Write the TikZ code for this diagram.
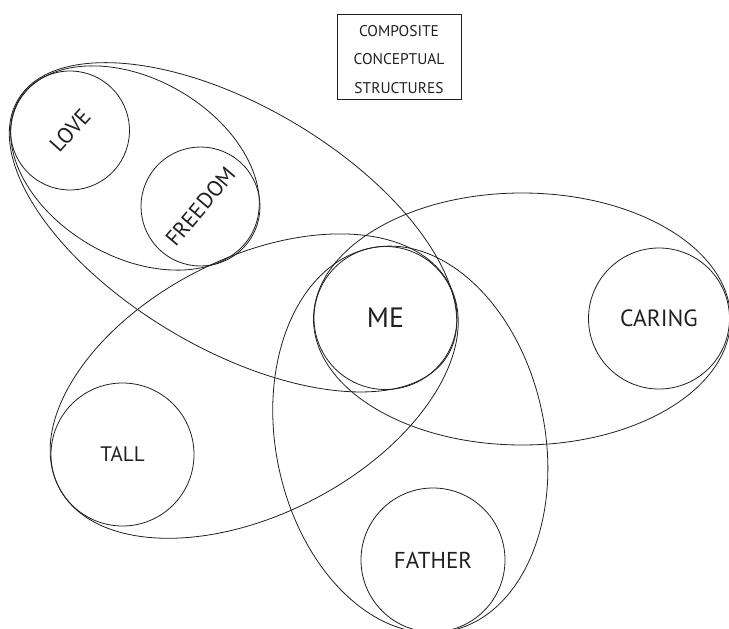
\documentclass[tikz,border=0pt]{standalone}
\usepackage{fontspec}
\setmainfont{PT Sans}
\definecolor{ink}{HTML}{231F20}
\begin{document}
\begin{tikzpicture}[x=1pt,y=-1pt,
  outline/.style={draw=ink, line width=0.8pt},
  concept/.style={outline, circle, inner sep=0pt, text=ink},
  boxlabel/.style={text=ink, font=\fontsize{15.5}{16}\selectfont, inner sep=0pt}]
\useasboundingbox (0,0) rectangle (729,629);
\clip (0,0) rectangle (729,629);

% title box
\node[outline, minimum width=124pt, minimum height=85pt, inner sep=0pt] (title) at (399,56.5) {};
\node[boxlabel] (t1) at (399,31) {COMPOSITE};
\node[boxlabel] (t2) at (399,59.5) {CONCEPTUAL};
\node[boxlabel] (t3) at (399,88) {STRUCTURES};

% concept circles
\node[concept, minimum size=119pt, rotate=48, font=\fontsize{22}{24}\selectfont] (love) at (70,130.5) {LOVE};
\node[concept, minimum size=119pt, rotate=50, font=\fontsize{22}{24}\selectfont] (freedom) at (200.5,206.5) {FREEDOM};
\node[concept, minimum size=143pt, font=\fontsize{28}{30}\selectfont] (me) at (385.5,318) {ME};
\node[concept, minimum size=141pt, font=\fontsize{23.5}{25}\selectfont] (caring) at (659,318.5) {CARING};
\node[concept, minimum size=143pt, font=\fontsize{21}{23}\selectfont] (tall) at (122.5,454.5) {TALL};
\node[concept, minimum size=144pt, font=\fontsize{23}{25}\selectfont] (father) at (433,560) {FATHER};

% composite structures
\draw[outline, rotate around={-30:(135,168)}] (135,168) ellipse [x radius=134, y radius=89];
\draw[outline, rotate around={-30.7:(233,227.3)}] (233,227.3) ellipse [x radius=250, y radius=121];
\draw[outline, rotate around={27.4:(254.2,386.1)}] (254.2,386.1) ellipse [x radius=220, y radius=128];
\draw[outline] (522,319) ellipse [x radius=208.5, y radius=126];
\draw[outline, rotate around={-78.3:(410.3,439.5)}] (410.3,439.5) ellipse [x radius=195.5, y radius=134.5];
\end{tikzpicture}
\end{document}
